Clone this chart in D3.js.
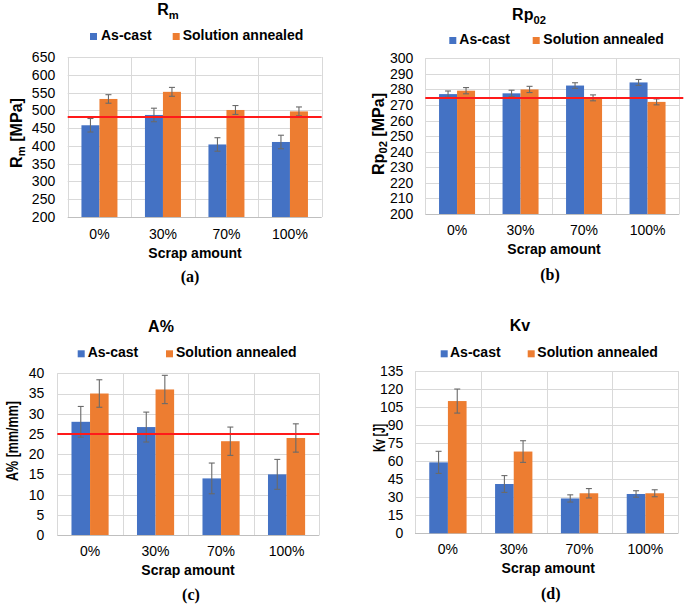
<!DOCTYPE html>
<html><head><meta charset="utf-8">
<script src="https://cdn.jsdelivr.net/npm/d3@7"></script>
<style>
body{margin:0;background:#fff}
svg{display:block;background:#fff}
text{font-family:"Liberation Sans",Arial,Helvetica,sans-serif;fill:#000}
</style>
</head><body>
<svg id="chart" width="685" height="606"></svg>
<script>
// ---------- data ----------
const categories = ["0%", "30%", "70%", "100%"];
const seriesNames = ["As-cast", "Solution annealed"];
const seriesColors = ["#4472C4", "#ED7D31"];

// (a) Rm
const rmAsCast = [458, 487, 404, 411];
const rmAsCastErr = [19, 19, 19, 19];
const rmAnnealed = [532, 552, 501, 497];
const rmAnnealedErr = [12, 12.5, 12.5, 12.5];
const rmRef = 481;
const rmTicks = [200, 250, 300, 350, 400, 450, 500, 550, 600, 650];

// (b) Rp02
const rpAsCast = [277, 277.5, 282.5, 284.5];
const rpAsCastErr = [2, 2, 1.8, 1.9];
const rpAnnealed = [279.2, 280, 274.6, 272];
const rpAnnealedErr = [2, 2, 1.9, 1.9];
const rpRef = 274.5;
const rpTicks = [200, 210, 220, 230, 240, 250, 260, 270, 280, 290, 300];

// (c) A%
const aAsCast = [28, 26.7, 14, 15];
const aAsCastErr = [3.8, 3.7, 3.8, 3.7];
const aAnnealed = [35, 36, 23.2, 24];
const aAnnealedErr = [3.4, 3.5, 3.5, 3.5];
const aRef = 25;
const aTicks = [0, 5, 10, 15, 20, 25, 30, 35, 40];

// (d) Kv
const kvAsCast = [59, 41, 29, 32.7];
const kvAsCastErr = [9.2, 7, 3, 2.7];
const kvAnnealed = [110, 68, 33.3, 33.3];
const kvAnnealedErr = [10, 9, 3.9, 2.9];
const kvTicks = [0, 15, 30, 45, 60, 75, 90, 105, 120, 135];

const xTitle = "Scrap amount";

// ---------- drawing ----------
const svg = d3.select("#chart");

function addRich(sel, parts, shift) {
  let prevSub = false;
  parts.forEach(p => {
    const t = sel.append("tspan").text(p.t);
    if (p.sub) { t.attr("dy", shift).attr("font-size", "0.7em"); prevSub = true; }
    else if (prevSub) { t.attr("dy", -shift); prevSub = false; }
  });
}

function drawPanel(p) {
  const g = svg.append("g");
  const x0 = d3.scaleBand().domain(categories).range([p.left, p.right]).paddingInner(0).paddingOuter(0);
  const x1 = d3.scaleBand().domain(seriesNames).range([0, x0.bandwidth()]).paddingInner(0).paddingOuter(0.764);
  const y = d3.scaleLinear().domain([p.ticks[0], p.ticks[p.ticks.length - 1]]).range([p.bottom, p.top]);

  // horizontal gridlines
  g.append("g").selectAll("line").data(p.ticks.slice(1)).join("line")
    .attr("x1", p.left).attr("x2", p.right)
    .attr("y1", d => Math.round(y(d)) + 0.5).attr("y2", d => Math.round(y(d)) + 0.5)
    .attr("stroke", "#d9d9d9").attr("stroke-width", 1);
  // vertical gridlines at category boundaries
  const bounds = categories.map(c => x0(c)).concat([p.right]);
  g.append("g").selectAll("line").data(bounds).join("line")
    .attr("x1", d => Math.round(d) + 0.5).attr("x2", d => Math.round(d) + 0.5)
    .attr("y1", p.top).attr("y2", p.bottom)
    .attr("stroke", "#d9d9d9").attr("stroke-width", 1);
  // bottom axis line
  g.append("line").attr("x1", p.left).attr("x2", p.right)
    .attr("y1", Math.round(y(p.ticks[0])) + 0.5).attr("y2", Math.round(y(p.ticks[0])) + 0.5)
    .attr("stroke", "#bfbfbf").attr("stroke-width", 1);

  // y axis labels
  const ya = g.append("g").attr("transform", `translate(${p.left},0)`)
    .call(d3.axisLeft(y).tickValues(p.ticks).tickSize(0).tickPadding(p.yPad).tickFormat(d3.format("d")));
  ya.select(".domain").remove();
  ya.selectAll("text").attr("font-size", 14).attr("font-family", "Liberation Sans, Arial, sans-serif").attr("fill", "#000");

  // x axis labels
  const xa = g.append("g").attr("transform", `translate(0,${p.bottom})`)
    .call(d3.axisBottom(x0).tickSize(0).tickPadding(p.xPad));
  xa.select(".domain").remove();
  xa.selectAll("text").attr("font-size", 14).attr("font-family", "Liberation Sans, Arial, sans-serif").attr("fill", "#000");

  // bars
  const rows = categories.map((c, i) => ({
    c,
    vals: p.series.map((s, k) => ({ name: seriesNames[k], v: s.v[i], e: s.e[i], color: seriesColors[k] }))
  }));
  const grp = g.append("g").selectAll("g").data(rows).join("g")
    .attr("transform", d => `translate(${x0(d.c)},0)`);
  grp.selectAll("rect").data(d => d.vals).join("rect")
    .attr("x", d => x1(d.name)).attr("width", x1.bandwidth())
    .attr("y", d => y(d.v)).attr("height", d => y(p.ticks[0]) - y(d.v))
    .attr("fill", d => d.color);
  // error bars
  const eb = grp.selectAll("g.eb").data(d => d.vals).join("g").attr("class", "eb")
    .attr("transform", d => `translate(${x1(d.name) + x1.bandwidth() / 2},0)`);
  eb.append("line").attr("x1", 0).attr("x2", 0)
    .attr("y1", d => y(d.v + d.e)).attr("y2", d => y(d.v - d.e));
  eb.append("line").attr("x1", -3).attr("x2", 3)
    .attr("y1", d => y(d.v + d.e)).attr("y2", d => y(d.v + d.e));
  eb.append("line").attr("x1", -3).attr("x2", 3)
    .attr("y1", d => y(d.v - d.e)).attr("y2", d => y(d.v - d.e));
  eb.selectAll("line").attr("stroke", "#6a6a6a").attr("stroke-width", 1.1);

  // reference line
  if (p.ref !== undefined) {
    g.append("line").attr("x1", p.left).attr("x2", p.right + (p.refExtra || 0))
      .attr("y1", y(p.ref)).attr("y2", y(p.ref))
      .attr("stroke", "#ff1a1a").attr("stroke-width", 2);
  }

  // title
  const t = g.append("text").attr("x", p.titleX).attr("y", p.titleY)
    .attr("text-anchor", "middle").attr("font-size", 16).attr("font-weight", "bold");
  addRich(t, p.title, 4);

  // legend
  p.legend.forEach((L, k) => {
    g.append("rect").attr("x", L.sx).attr("y", p.legendY - 7).attr("width", 7).attr("height", 7)
      .attr("fill", seriesColors[k]);
    g.append("text").attr("x", L.tx).attr("y", p.legendY)
      .attr("font-size", 14).attr("font-weight", "bold").text(seriesNames[k]);
  });

  // y title (bold, horizontally condensed to the measured length)
  const yt = g.append("text")
    .attr("text-anchor", "middle").attr("font-size", 16).attr("font-weight", "bold");
  addRich(yt, p.yTitle, 3);
  const natural = yt.node().getComputedTextLength();
  const k = p.yTitleLen / natural;
  yt.attr("transform", `translate(${p.yTitleX},${p.yTitleY}) rotate(-90) scale(${k},1)`);

  // x title
  g.append("text").attr("x", p.xTitleX).attr("y", p.xTitleY)
    .attr("text-anchor", "middle").attr("font-size", 14).attr("font-weight", "bold")
    .text(xTitle);

  // caption
  g.append("text").attr("x", p.capX).attr("y", p.capY)
    .attr("text-anchor", "middle").attr("font-size", 16).attr("font-weight", "bold")
    .style("font-family", "Liberation Serif, Times New Roman, serif")
    .text(p.caption);
}

drawPanel({
  left: 67.7, right: 321.7, top: 57, bottom: 217, ticks: rmTicks,
  series: [{ v: rmAsCast, e: rmAsCastErr }, { v: rmAnnealed, e: rmAnnealedErr }],
  ref: rmRef, refExtra: 0,
  yPad: 12.5, xPad: 12,
  title: [{ t: "R" }, { t: "m", sub: true }], titleX: 168, titleY: 15,
  legendY: 40, legend: [{ sx: 90, tx: 101 }, { sx: 172.7, tx: 182.7 }],
  yTitle: [{ t: "R" }, { t: "m", sub: true }, { t: " [MPa]" }], yTitleX: 21.5, yTitleY: 133, yTitleLen: 70,
  xTitleX: 195, xTitleY: 258, caption: "(a)", capX: 190, capY: 281.5
});

drawPanel({
  left: 425.3, right: 679.3, top: 58.3, bottom: 214, ticks: rpTicks,
  series: [{ v: rpAsCast, e: rpAsCastErr }, { v: rpAnnealed, e: rpAnnealedErr }],
  ref: rpRef, refExtra: 4,
  yPad: 12, xPad: 11,
  title: [{ t: "Rp" }, { t: "02", sub: true }], titleX: 529, titleY: 20,
  legendY: 44, legend: [{ sx: 449.3, tx: 459.3 }, { sx: 532.7, tx: 543.3 }],
  yTitle: [{ t: "Rp" }, { t: "02", sub: true }, { t: " [MPa]" }], yTitleX: 384, yTitleY: 134, yTitleLen: 82,
  xTitleX: 554, xTitleY: 254.3, caption: "(b)", capX: 550, capY: 280
});

drawPanel({
  left: 57.3, right: 319.3, top: 373.3, bottom: 535, ticks: aTicks,
  series: [{ v: aAsCast, e: aAsCastErr }, { v: aAnnealed, e: aAnnealedErr }],
  ref: aRef, refExtra: 0,
  yPad: 13, xPad: 11,
  title: [{ t: "A%" }], titleX: 161, titleY: 331.7,
  legendY: 357.3, legend: [{ sx: 77.7, tx: 87.7 }, { sx: 166, tx: 176 }],
  yTitle: [{ t: "A% [mm/mm]" }], yTitleX: 18.3, yTitleY: 441, yTitleLen: 80,
  xTitleX: 188, xTitleY: 575, caption: "(c)", capX: 191, capY: 600
});

drawPanel({
  left: 415, right: 678.3, top: 371, bottom: 533.3, ticks: kvTicks,
  series: [{ v: kvAsCast, e: kvAsCastErr }, { v: kvAnnealed, e: kvAnnealedErr }],
  yPad: 11.7, xPad: 11,
  title: [{ t: "Kv" }], titleX: 520, titleY: 330.7,
  legendY: 357.3, legend: [{ sx: 440.7, tx: 450 }, { sx: 527.7, tx: 537.3 }],
  yTitle: [{ t: "Kv [J]" }], yTitleX: 384.5, yTitleY: 438, yTitleLen: 28,
  xTitleX: 548.3, xTitleY: 573.3, caption: "(d)", capX: 550.7, capY: 598.5
});
</script>
</body></html>
